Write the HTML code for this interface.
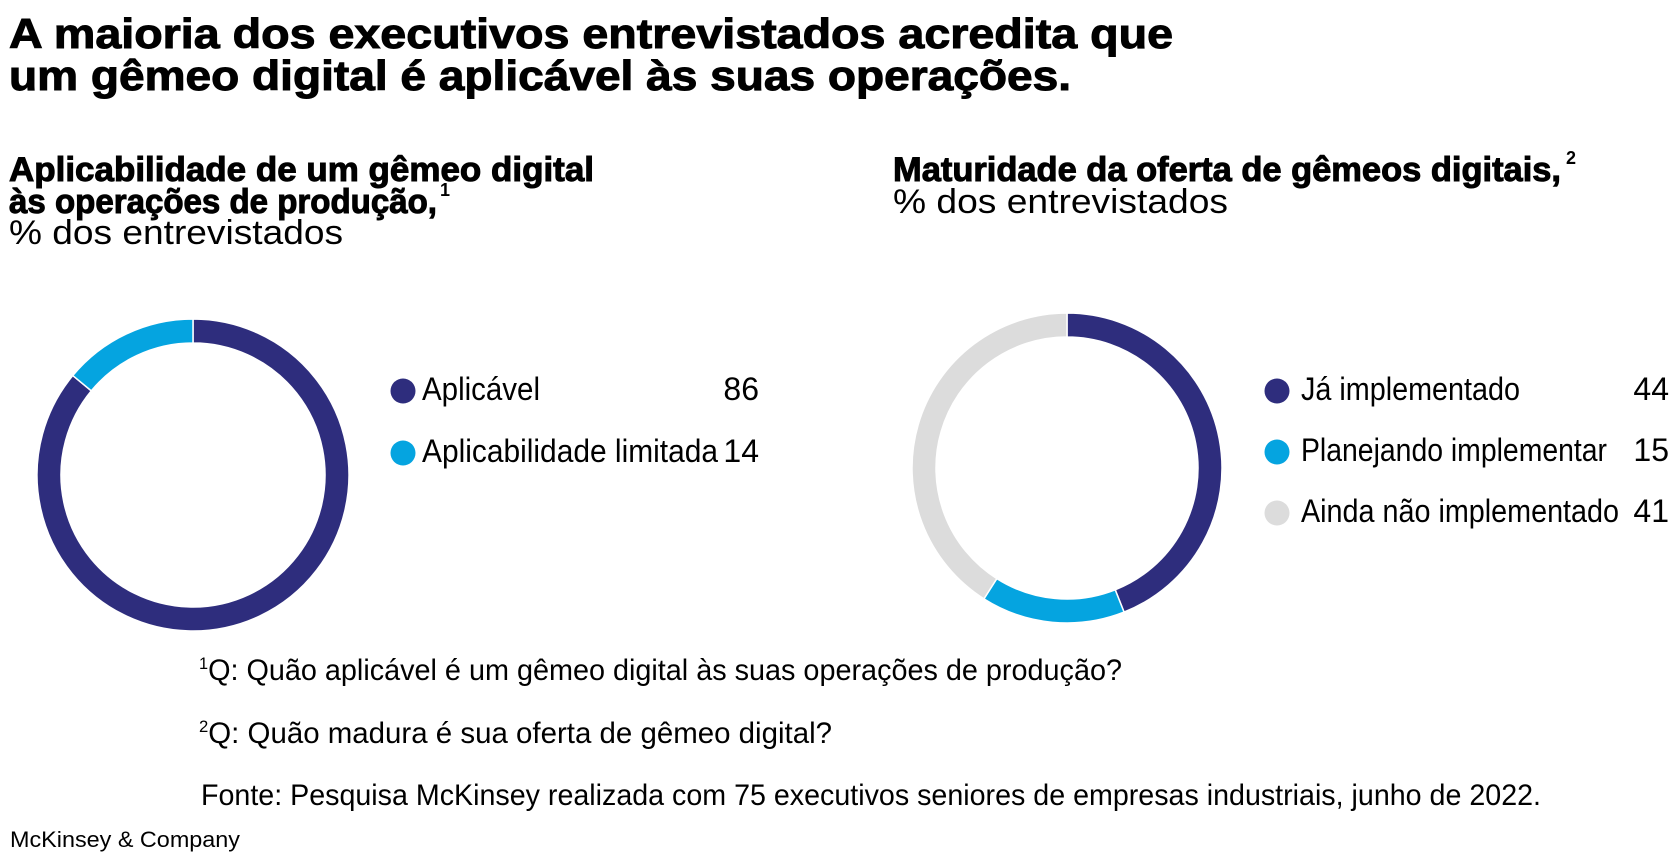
<!DOCTYPE html>
<html><head><meta charset="utf-8"><style>
html,body{margin:0;padding:0;background:#fff;}
svg{display:block;}
.t{font-family:"Liberation Sans",sans-serif;font-weight:bold;fill:#000;}
.b{stroke:#000;stroke-width:1;}
.n{font-family:"Liberation Sans Narrow","Liberation Sans",sans-serif;fill:#000;}
</style></head><body>
<svg id="c" width="1672" height="862" viewBox="0 0 1672 862" xmlns="http://www.w3.org/2000/svg">
<text class="t b" x="9" y="48" font-size="42" textLength="1164" lengthAdjust="spacingAndGlyphs">A maioria dos executivos entrevistados acredita que</text>
<text class="t b" x="9" y="90" font-size="42" textLength="1062" lengthAdjust="spacingAndGlyphs">um gêmeo digital é aplicável às suas operações.</text>

<text class="t b" x="9" y="181" font-size="34" textLength="585" lengthAdjust="spacingAndGlyphs">Aplicabilidade de um gêmeo digital</text>
<text class="t b" x="9" y="213" font-size="34" textLength="428" lengthAdjust="spacingAndGlyphs">às operações de produção,</text>
<text class="t" x="440" y="196" font-size="18">1</text>
<text class="t" x="9" y="244" font-size="34" style="font-weight:normal" textLength="334" lengthAdjust="spacingAndGlyphs">% dos entrevistados</text>

<text class="t b" x="893" y="181" font-size="34" textLength="668" lengthAdjust="spacingAndGlyphs">Maturidade da oferta de gêmeos digitais,</text>
<text class="t" x="1566" y="164" font-size="18">2</text>
<text class="t" x="893" y="213" font-size="34" style="font-weight:normal" textLength="335" lengthAdjust="spacingAndGlyphs">% dos entrevistados</text>

<g id="left"></g>
<g id="right"></g>

<text class="n" x="199" y="680" font-size="30" textLength="923" lengthAdjust="spacingAndGlyphs"><tspan font-size="17" dy="-11">1</tspan><tspan dy="11">Q: Quão aplicável é um gêmeo digital às suas operações de produção?</tspan></text>
<text class="n" x="199" y="743" font-size="30" textLength="633" lengthAdjust="spacingAndGlyphs"><tspan font-size="17" dy="-11">2</tspan><tspan dy="11">Q: Quão madura é sua oferta de gêmeo digital?</tspan></text>
<text class="n" x="201" y="805" font-size="30" textLength="1340" lengthAdjust="spacingAndGlyphs">Fonte: Pesquisa McKinsey realizada com 75 executivos seniores de empresas industriais, junho de 2022.</text>
<text class="n" x="10" y="847" font-size="22" textLength="230" lengthAdjust="spacingAndGlyphs">McKinsey &amp; Company</text>
</svg>
<script>
const leftCategories = ["Aplicável", "Aplicabilidade limitada"];
const leftValues = [86, 14];
const rightCategories = ["Já implementado", "Planejando implementar", "Ainda não implementado"];
const rightValues = [44, 15, 41];
const colors = ["#2e2d7d", "#05a4e0", "#dcdcdc"];
const NS = "http://www.w3.org/2000/svg";

function arcPath(cx, cy, r0, r1, a0, a1) {
  const p = (r, a) => [cx + r * Math.sin(a), cy - r * Math.cos(a)];
  const large = (a1 - a0) > Math.PI ? 1 : 0;
  const [x1, y1] = p(r1, a0), [x2, y2] = p(r1, a1), [x3, y3] = p(r0, a1), [x4, y4] = p(r0, a0);
  return `M${x1},${y1}A${r1},${r1} 0 ${large} 1 ${x2},${y2}L${x3},${y3}A${r0},${r0} 0 ${large} 0 ${x4},${y4}Z`;
}

function donut(gid, cats, vals, cx, cy, R, th, lg) {
  const g = document.getElementById(gid);
  const total = vals.reduce((a, b) => a + b, 0);
  let a = 0;
  vals.forEach((v, i) => {
    const a1 = a + v / total * 2 * Math.PI;
    const path = document.createElementNS(NS, "path");
    path.setAttribute("d", arcPath(cx, cy, R - th, R, a, a1));
    path.setAttribute("fill", colors[i]);
    path.setAttribute("stroke", "#fff");
    path.setAttribute("stroke-width", "1.5");
    
    
    g.appendChild(path);
    a = a1;
  });
  cats.forEach((c, i) => {
    const y = lg.y0 + i * lg.dy;
    const dot = document.createElementNS(NS, "circle");
    dot.setAttribute("cx", lg.dotX); dot.setAttribute("cy", y); dot.setAttribute("r", 12.5);
    dot.setAttribute("fill", colors[i]);
    
    
    g.appendChild(dot);
    const t = document.createElementNS(NS, "text");
    t.setAttribute("class", "n"); t.setAttribute("x", lg.textX); t.setAttribute("y", y + 9);
    t.setAttribute("font-size", "32");
    t.setAttribute("textLength", lg.widths[i]); t.setAttribute("lengthAdjust", "spacingAndGlyphs");
    t.textContent = c;
    
    
    g.appendChild(t);
    const vt = document.createElementNS(NS, "text");
    vt.setAttribute("class", "n"); vt.setAttribute("x", lg.valX); vt.setAttribute("y", y + 9);
    vt.setAttribute("font-size", "32"); vt.setAttribute("text-anchor", "end");
    vt.textContent = vals[i];
    
    
    g.appendChild(vt);
  });
}
donut("left", leftCategories, leftValues, 193, 475, 156, 24,
  {dotX: 403, textX: 422, valX: 759, y0: 391, dy: 62, widths: [118, 296]});
donut("right", rightCategories, rightValues, 1067, 468, 155, 24,
  {dotX: 1277, textX: 1301, valX: 1669, y0: 391, dy: 61, widths: [219, 306, 318]});
</script>
</body></html>
